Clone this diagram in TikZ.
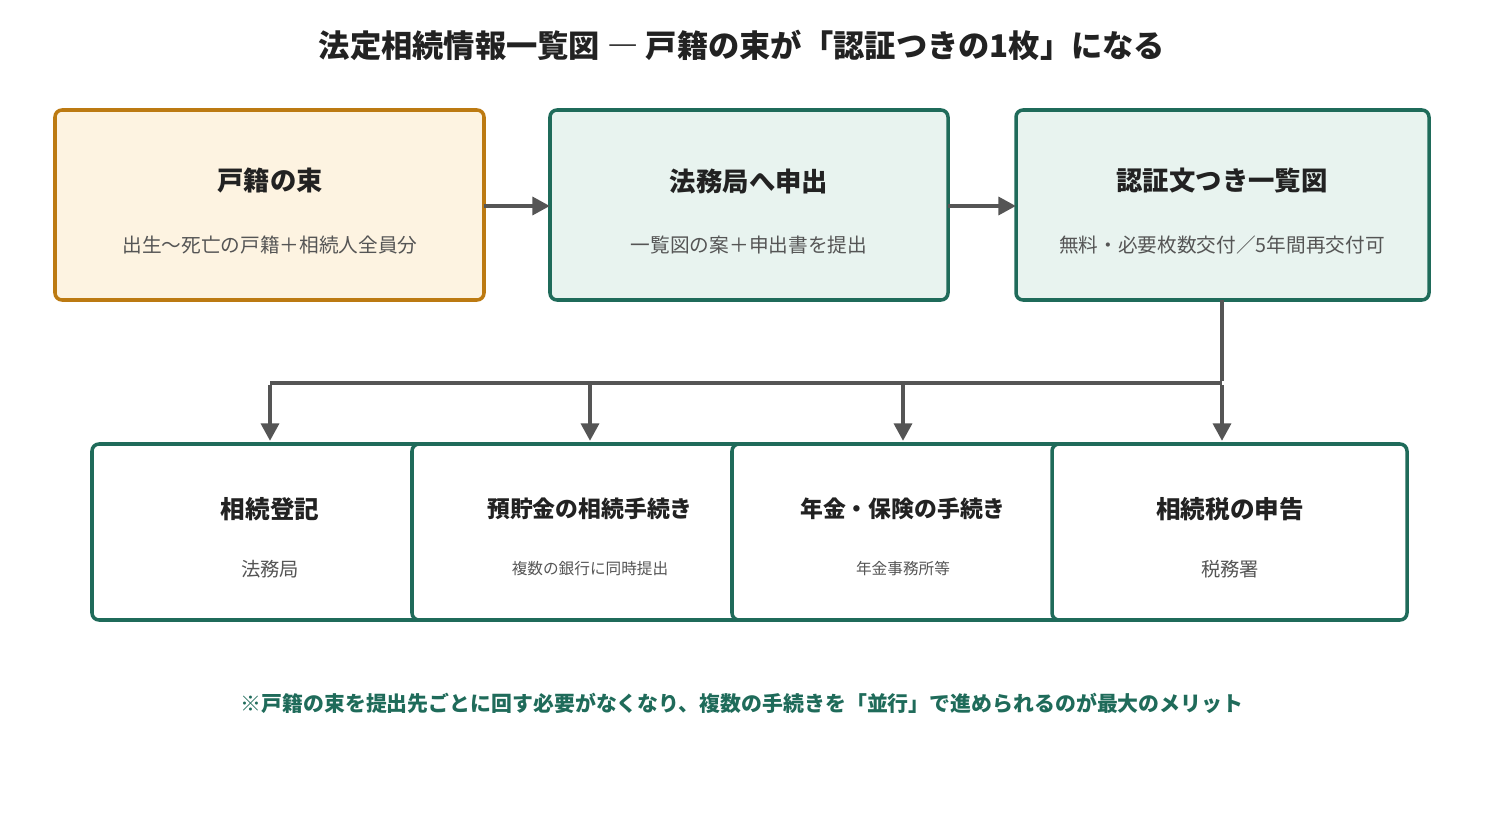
\documentclass[tikz,border=0pt]{standalone}
\usepackage{fontspec}
\setmainfont{Noto Sans CJK JP}
\usetikzlibrary{arrows.meta}
\definecolor{gr}{HTML}{1F6B5A}
\definecolor{grf}{HTML}{E8F3EF}
\definecolor{or}{HTML}{BC7A12}
\definecolor{orf}{HTML}{FDF3E1}
\definecolor{ar}{HTML}{555555}
\definecolor{tx}{HTML}{222222}
\definecolor{sub}{HTML}{555555}
\begin{document}
\begin{tikzpicture}[x=0.02cm,y=-0.02cm,
 box/.style={draw=gr,line width=2pt,rounded corners=4pt,fill=white},
 tt/.style={font=\fontsize{15}{17}\selectfont\bfseries,text=tx},
 st/.style={font=\fontsize{11.2}{13}\selectfont,text=sub},
 sst/.style={font=\fontsize{8.9}{10}\selectfont,text=sub},
 arr/.style={draw=ar,line width=2.5pt,-{Triangle[length=10pt,width=10pt]}},
 ln/.style={draw=ar,line width=2.5pt}]
\useasboundingbox (0,0) rectangle (1485,824);
\node[font=\fontsize{17.8}{20}\selectfont\bfseries,text=tx] (title) at (742,45) {法定相続情報一覧図 ― 戸籍の束が「認証つきの1枚」になる};
\draw[box,draw=or,fill=orf] (55,110) rectangle (484,300);
\draw[box,fill=grf] (550,110) rectangle (948,300);
\draw[box,fill=grf] (1016,110) rectangle (1429,300);
\coordinate (a1) at (484,206); \coordinate (a2) at (550,206);
\coordinate (b1) at (948,206); \coordinate (b2) at (1016,206);
\node[tt] (t1) at (270,181) {戸籍の束};
\node[st] (s1) at (270,245) {出生〜死亡の戸籍＋相続人全員分};
\node[tt] (t2) at (749,181) {法務局へ申出};
\node[st] (s2) at (749,245) {一覧図の案＋申出書を提出};
\node[tt] (t3) at (1222,181) {認証文つき一覧図};
\node[st] (s3) at (1222,245) {無料・必要枚数交付／5年間再交付可};
\draw[arr] (a1) -- (a2);
\draw[arr] (b1) -- (b2);
\coordinate (v0) at (1222,300); \coordinate (v1) at (1222,381);
\coordinate (hL) at (270,383); \coordinate (hR) at (1222,383);
\draw[ln] (v0) -- (v1);
\draw[ln] (hL) -- (hR);
\foreach \x/\n in {270/d1,590/d2,903/d3,1222/d4}{
 \coordinate (\n s) at (\x,385); \coordinate (\n e) at (\x,441);
 \draw[arr] (\n s) -- (\n e);}
\draw[box] (92,444) rectangle (440,620);
\draw[box] (412,444) rectangle (760,620);
\draw[box] (732,444) rectangle (1080,620);
\draw[box] (1052,444) rectangle (1407,620);
\node[tt,font=\fontsize{14}{16}\selectfont\bfseries] (u1) at (270,509) {相続登記};
\node[st,font=\fontsize{11}{13}\selectfont] (v1n) at (270,569) {法務局};
\node[tt,font=\fontsize{13}{15}\selectfont\bfseries] (u2) at (590,509) {預貯金の相続手続き};
\node[sst] (v2n) at (590,569) {複数の銀行に同時提出};
\node[tt,font=\fontsize{13}{15}\selectfont\bfseries] (u3) at (903,509) {年金・保険の手続き};
\node[sst] (v3n) at (903,569) {年金事務所等};
\node[tt,font=\fontsize{14}{16}\selectfont\bfseries] (u4) at (1230,509) {相続税の申告};
\node[st,font=\fontsize{11}{13}\selectfont] (v4n) at (1230,569) {税務署};
\node[font=\fontsize{11.9}{14}\selectfont\bfseries,text=gr] (note) at (742,703) {※戸籍の束を提出先ごとに回す必要がなくなり、複数の手続きを「並行」で進められるのが最大のメリット};
\end{tikzpicture}
\end{document}
